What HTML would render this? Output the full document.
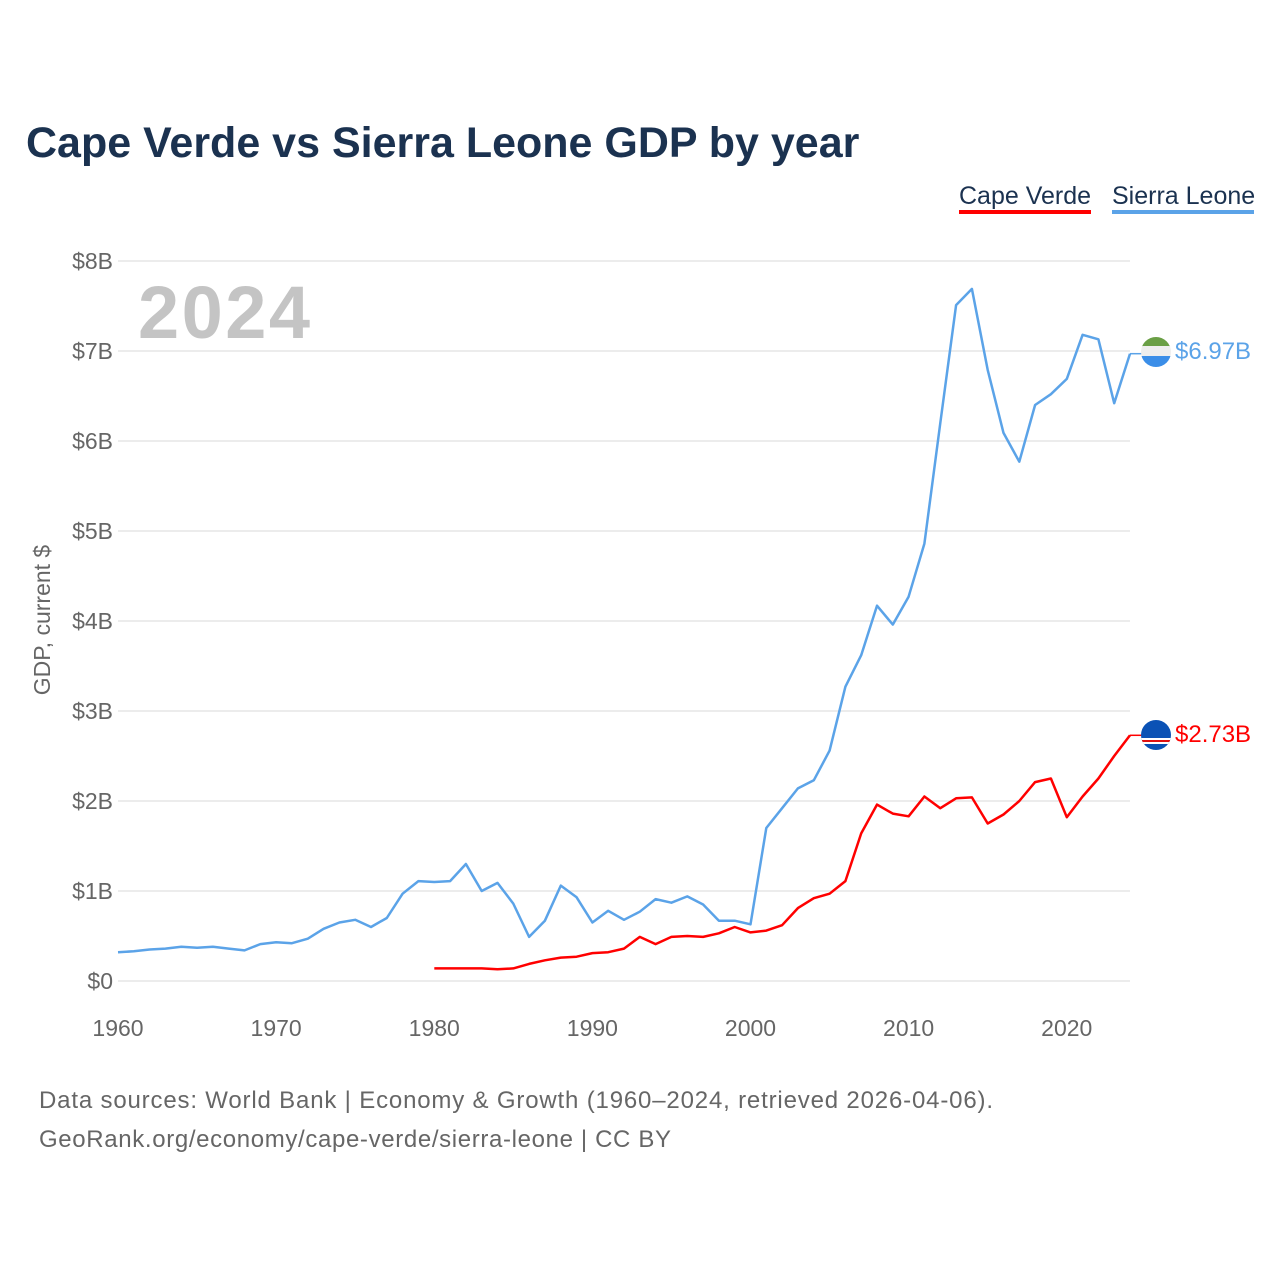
<!DOCTYPE html>
<html><head><meta charset="utf-8"><style>
body{margin:0;background:#fff;}
svg text{font-family:"Liberation Sans",sans-serif;}
</style></head><body>
<svg id="chart" width="1280" height="1280" viewBox="0 0 1280 1280" xmlns="http://www.w3.org/2000/svg">
<rect width="1280" height="1280" fill="#fff"/>
<text x="26" y="157" font-size="43" font-weight="bold" fill="#1b3250">Cape Verde vs Sierra Leone GDP by year</text>
<g>
<text x="959" y="204" font-size="25" fill="#1b3250">Cape Verde</text>
<rect x="959" y="210" width="132" height="4" fill="#ff0000"/>
<text x="1112" y="204" font-size="25" fill="#1b3250">Sierra Leone</text>
<rect x="1112" y="210" width="142" height="4" fill="#5ba3e8"/>
</g>
<text x="138" y="338" font-size="74" font-weight="bold" fill="#c4c4c4" textLength="172">2024</text>
<text transform="translate(50,620) rotate(-90)" text-anchor="middle" font-size="23" fill="#666">GDP, current $</text>
<g id="grid"></g><g id="yticks"></g><g id="xticks"></g><g id="series"></g>
<g>
<defs>
<clipPath id="c1"><circle cx="1156" cy="352" r="15"/></clipPath>
<clipPath id="c2"><circle cx="1156" cy="735" r="15"/></clipPath>
</defs>
<g clip-path="url(#c1)">
<rect x="1140" y="336" width="32" height="11" fill="#6a9f45"/>
<rect x="1140" y="346" width="32" height="11" fill="#eeeeee"/>
<rect x="1140" y="356" width="32" height="12" fill="#3b8ee8"/>
</g>
<g clip-path="url(#c2)">
<rect x="1140" y="719" width="32" height="32" fill="#0b52b5"/>
<rect x="1140" y="738" width="32" height="2" fill="#fff"/>
<rect x="1140" y="740" width="32" height="2" fill="#e01010"/>
<rect x="1140" y="742" width="32" height="2" fill="#fff"/>
</g>
<text x="1175" y="359" font-size="24" fill="#5ba3e8">$6.97B</text>
<text x="1175" y="742" font-size="24" fill="#ff0000">$2.73B</text>
</g>
<text x="39" y="1108" font-size="24" fill="#666" textLength="954">Data sources: World Bank | Economy &amp; Growth (1960–2024, retrieved 2026-04-06).</text>
<text x="39" y="1147" font-size="24" fill="#666" textLength="632">GeoRank.org/economy/cape-verde/sierra-leone | CC BY</text>
</svg>
<script>
const sierraLeoneStart = 1960;
const sierraLeone = [0.32,0.33,0.35,0.36,0.38,0.37,0.38,0.36,0.34,0.41,0.43,0.42,0.47,0.58,0.65,0.68,0.60,0.70,0.97,1.11,1.10,1.11,1.30,1.00,1.09,0.86,0.49,0.67,1.06,0.93,0.65,0.78,0.68,0.77,0.91,0.87,0.94,0.85,0.67,0.67,0.63,1.70,1.92,2.14,2.23,2.56,3.27,3.62,4.17,3.96,4.27,4.86,6.20,7.51,7.69,6.79,6.09,5.77,6.40,6.52,6.69,7.18,7.13,6.42,6.97];
const capeVerdeStart = 1980;
const capeVerde = [0.14,0.14,0.14,0.14,0.13,0.14,0.19,0.23,0.26,0.27,0.31,0.32,0.36,0.49,0.41,0.49,0.50,0.49,0.53,0.60,0.54,0.56,0.62,0.81,0.92,0.97,1.11,1.64,1.96,1.86,1.83,2.05,1.92,2.03,2.04,1.75,1.85,2.00,2.21,2.25,1.82,2.05,2.25,2.50,2.73];
const yTicks = [0,1,2,3,4,5,6,7,8];
const yTickLabels = ["$0","$1B","$2B","$3B","$4B","$5B","$6B","$7B","$8B"];
const xTicks = [1960,1970,1980,1990,2000,2010,2020];

const NS="http://www.w3.org/2000/svg";
const x = yr => 118 + (yr-1960)*(1130-118)/64;
const y = v => 981 - v*90;
function mk(tag, attrs, parent){const e=document.createElementNS(NS,tag);for(const k in attrs)e.setAttribute(k,attrs[k]);parent.appendChild(e);return e;}
const grid=document.getElementById('grid'), yt=document.getElementById('yticks'), xt=document.getElementById('xticks'), ser=document.getElementById('series');
yTicks.forEach((t,i)=>{
  const l=mk('line',{x1:118,x2:1130,y1:y(t),y2:y(t),stroke:'#e6e6e6','stroke-width':1.5},grid);
  
  
  const tx=mk('text',{x:113,y:y(t)+8,'text-anchor':'end','font-size':23,fill:'#666'},yt);
  tx.textContent=yTickLabels[i];
  
  
});
xTicks.forEach(t=>{
  const tx=mk('text',{x:x(t),y:1036,'text-anchor':'middle','font-size':23,fill:'#666'},xt);
  tx.textContent=t;
  
  
});
function line(vals,start,color,name){
  const pts=vals.map((v,i)=>x(start+i).toFixed(1)+','+y(v).toFixed(1));
  const p=mk('polyline',{points:pts.join(' '),fill:'none',stroke:color,'stroke-width':2.5,'stroke-linejoin':'round'},ser);
  
  
  const last=vals[vals.length-1];
  const c=mk('line',{x1:x(start+vals.length-1),x2:1142,y1:y(last),y2:y(last),stroke:color,'stroke-width':1.5},ser);
  
  
}
line(sierraLeone,sierraLeoneStart,'#5ba3e8','sierra-leone-line');
line(capeVerde,capeVerdeStart,'#ff0000','cape-verde-line');
</script>
</body></html>
